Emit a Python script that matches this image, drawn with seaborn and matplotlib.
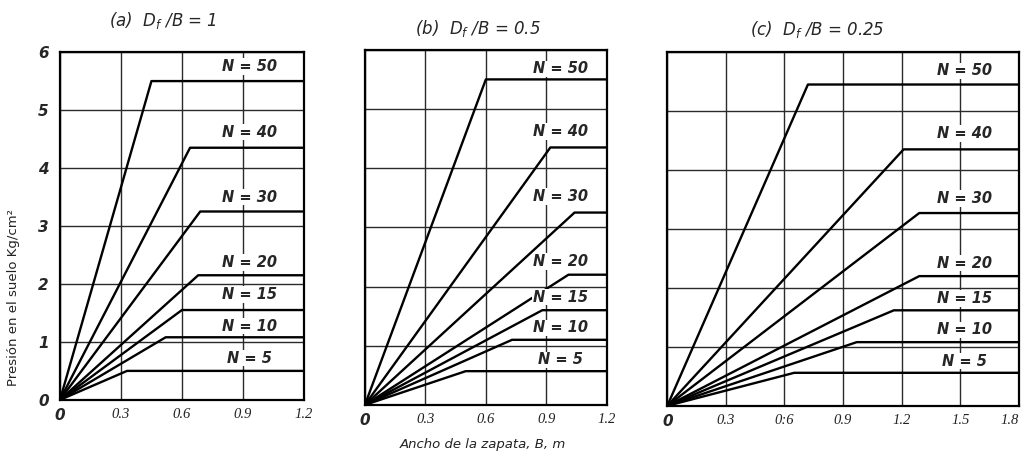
import matplotlib
matplotlib.use("Agg")
import matplotlib.pyplot as plt
import seaborn as sns
import pandas as pd

# ---- data ----
n_values = [50, 40, 30, 20, 15, 10, 5]
titles = [r"(a)  $D_f$ /B = 1", r"(b)  $D_f$ /B = 0.5", r"(c)  $D_f$ /B = 0.25"]

# knee (end of rising segment) for each N, per panel
knee_x_a = [0.45, 0.64, 0.69, 0.68, 0.60, 0.52, 0.33]
knee_y_a = [5.50, 4.35, 3.25, 2.15, 1.55, 1.08, 0.50]
knee_x_b = [0.60, 0.92, 1.04, 1.01, 0.88, 0.73, 0.50]
knee_y_b = [5.50, 4.35, 3.25, 2.20, 1.60, 1.10, 0.57]
knee_x_c = [0.72, 1.21, 1.29, 1.29, 1.16, 0.97, 0.65]
knee_y_c = [5.45, 4.35, 3.27, 2.20, 1.62, 1.08, 0.56]

x_max = [1.2, 1.2, 1.8]
xtick_vals_ab = [0, 0.3, 0.6, 0.9, 1.2]
xtick_labels_ab = ["0", "0.3", "0.6", "0.9", "1.2"]
xtick_vals_c = [0, 0.3, 0.6, 0.9, 1.2, 1.5, 1.8]
xtick_labels_c = ["0", "0.3", "0:6", "0.9", "1.2", "1.5", "1.8"]
ytick_vals = [0, 1, 2, 3, 4, 5, 6]

# label placement (layout)
label_x = [0.93, 0.97, 1.52]
label_y = [
    [5.75, 4.62, 3.5, 2.37, 1.82, 1.27, 0.72],
    [5.68, 4.62, 3.52, 2.42, 1.82, 1.30, 0.76],
    [5.68, 4.62, 3.52, 2.42, 1.82, 1.29, 0.76],
]
label_fmt = ["N = 50", "N = 40", "N = 30", "N = 20", "N = 15", "N = 10", "N = 5"]
title_pos = [(0.159, 0.955), (0.466, 0.938), (0.797, 0.935)]

sns.set_style("white")
plt.rcParams["font.family"] = ["DejaVu Sans"]

fig = plt.figure(figsize=(10.25, 4.57), dpi=100)
positions = [
    [0.0585, 0.125, 0.238, 0.761],
    [0.356, 0.114, 0.236, 0.777],
    [0.651, 0.112, 0.343, 0.774],
]
knees = [(knee_x_a, knee_y_a), (knee_x_b, knee_y_b), (knee_x_c, knee_y_c)]

for i, (pos, (kx, ky)) in enumerate(zip(positions, knees)):
    ax = fig.add_axes(pos)
    rows = []
    for n, x1, y1 in zip(n_values, kx, ky):
        rows += [
            {"N": n, "B": 0.0, "q": 0.0},
            {"N": n, "B": x1, "q": y1},
            {"N": n, "B": x_max[i], "q": y1},
        ]
    df = pd.DataFrame(rows)
    sns.lineplot(data=df, x="B", y="q", units="N", estimator=None, sort=False,
                 color="black", lw=1.7, ax=ax)
    xt = xtick_vals_c if i == 2 else xtick_vals_ab
    xl = xtick_labels_c if i == 2 else xtick_labels_ab
    ax.set_xlim(0, x_max[i])
    ax.set_ylim(0, 6)
    ax.set_xticks(xt)
    ax.set_yticks(ytick_vals)
    ax.grid(True, color="#2a2a2a", lw=1.0)
    ax.set_axisbelow(True)
    for s in ax.spines.values():
        s.set_color("black")
        s.set_linewidth(1.6)
    ax.set_xticklabels(xl)
    ax.tick_params(length=0, pad=6)
    labs = ax.get_xticklabels()
    for j, lab in enumerate(labs):
        if j == 0:
            lab.set_fontfamily("DejaVu Sans")
            lab.set_fontweight("bold")
            lab.set_fontstyle("italic")
            lab.set_fontsize(11)
        else:
            lab.set_fontfamily("Liberation Serif")
            lab.set_fontstyle("italic")
            lab.set_fontsize(10.5)
            lab.set_color("#222222")
    if i == 2:
        labs[-1].set_horizontalalignment("right")
    if i == 0:
        ax.set_yticklabels([str(v) for v in ytick_vals], fontsize=11,
                           fontweight="bold", fontstyle="italic")
        ax.tick_params(axis="y", pad=8)
    else:
        ax.set_yticklabels([])
    ax.set_xlabel("")
    ax.set_ylabel("")
    for t, yy in zip(label_fmt, label_y[i]):
        ax.text(label_x[i], yy, t, ha="center", va="center", fontsize=10.5,
                fontstyle="italic", fontweight="bold",
                bbox=dict(facecolor="white", edgecolor="none", pad=0.5))
    fig.text(title_pos[i][0], title_pos[i][1], titles[i], ha="center",
             va="center", fontsize=12, fontstyle="italic")

fig.text(0.013, 0.35, "Presión en el suelo Kg/cm²", rotation=90, ha="center",
         va="center", fontsize=9.5, color="#222222")
fig.text(0.471, 0.028, "Ancho de la zapata, B, m", ha="center", va="center",
         fontsize=9.5, fontstyle="italic", color="#222222")

fig.savefig("out.png", dpi=100, facecolor="white")
